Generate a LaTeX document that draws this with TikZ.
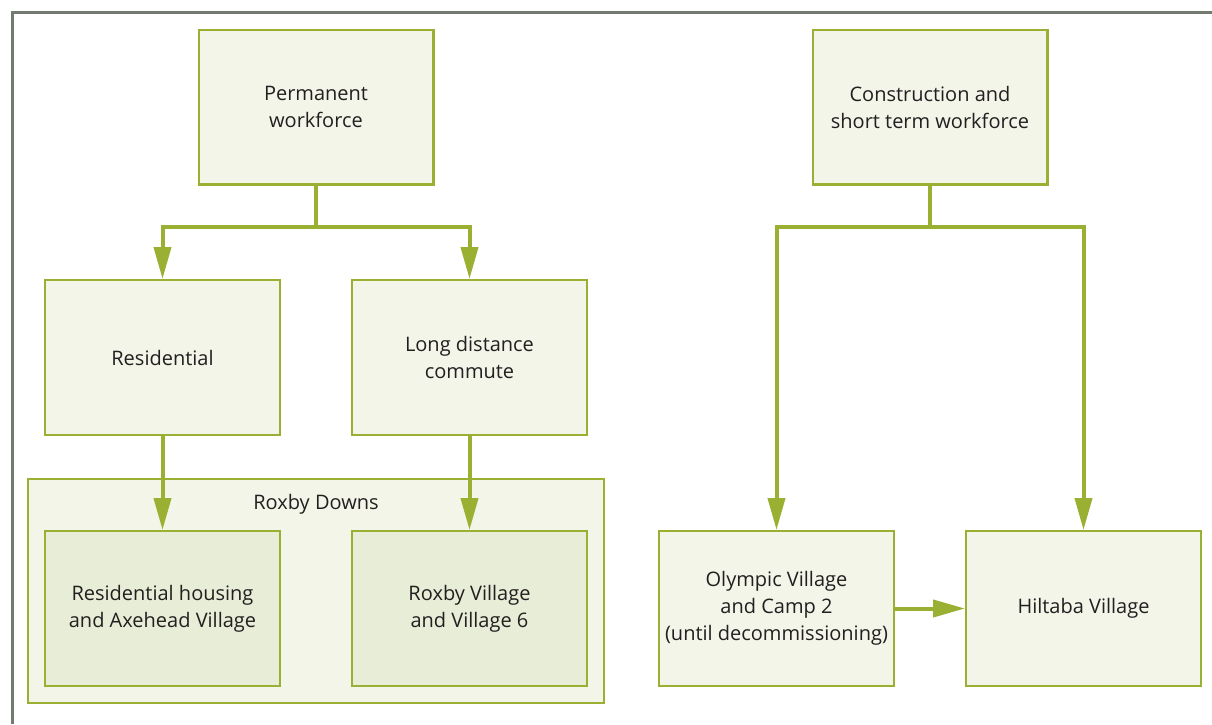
\documentclass[tikz,border=0pt]{standalone}
\usepackage{fontspec}
\setmainfont{Open Sans}
\usetikzlibrary{arrows.meta,fit,positioning,backgrounds}

\definecolor{leaf}{HTML}{9AB032}
\definecolor{paleleaf}{HTML}{F2F5E8}
\definecolor{sageleaf}{HTML}{E7EDD6}
\definecolor{framegray}{HTML}{737B71}
\definecolor{inkgray}{HTML}{231F20}

\begin{document}
\begin{tikzpicture}[x=0.5pt, y=-0.5pt,
  every node/.style = {align=center, text=inkgray, font=\fontsize{10}{13.5}\selectfont},
  box/.style = {draw=leaf, line width=1.2pt, fill=paleleaf, minimum width=117.3pt, minimum height=77.3pt, inner sep=0pt},
  townbox/.style = {box, fill=sageleaf},
  flow/.style = {draw=leaf, line width=2pt, -{Triangle[length=16pt, width=8.5pt]}}]
  \useasboundingbox (0,0) rectangle (1212,724);
  \draw[framegray, line width=1.5pt] (12,724) |- (1212,12);

  % bottom row
  \node[townbox] (resh) at (162.5,608.5) {Residential housing\\and Axehead Village};
  \node[townbox, right=35pt of resh] (rvil) {Roxby Village\\and Village 6};
  \node[box, right=35pt of rvil] (oly) {Olympic Village\\and Camp 2\\(until decommissioning)};
  \node[box, right=35pt of oly] (hil) {Hiltaba Village};

  % middle and top
  \node[box, above=47pt of resh] (res) {Residential};
  \node[box, above=47pt of rvil] (ldc) {Long distance\\commute};
  \node[box] (perm) at (316,107) {Permanent\\workforce};
  \node[box] (cons) at (930,107) {Construction and\\short term workforce};

  \coordinate (rdtop) at (316,495);
  \node (rdlabel) at (316,504) {Roxby Downs};
  \begin{scope}[on background layer]
    \node[draw=leaf, line width=1pt, fill=paleleaf, inner sep=8pt, fit=(resh) (rvil) (rdtop)] (roxby) {};
  \end{scope}

  \draw[flow] (perm.south) -- ++(0,41) -| (res.north);
  \draw[flow] (perm.south) -- ++(0,41) -| (ldc.north);
  \draw[flow] (cons.south) -- ++(0,41) -| (oly.north);
  \draw[flow] (cons.south) -- ++(0,41) -| (hil.north);
  \draw[flow] (res) -- (resh);
  \draw[flow] (ldc) -- (rvil);
  \draw[flow] (oly) -- (hil);
\end{tikzpicture}
\end{document}
